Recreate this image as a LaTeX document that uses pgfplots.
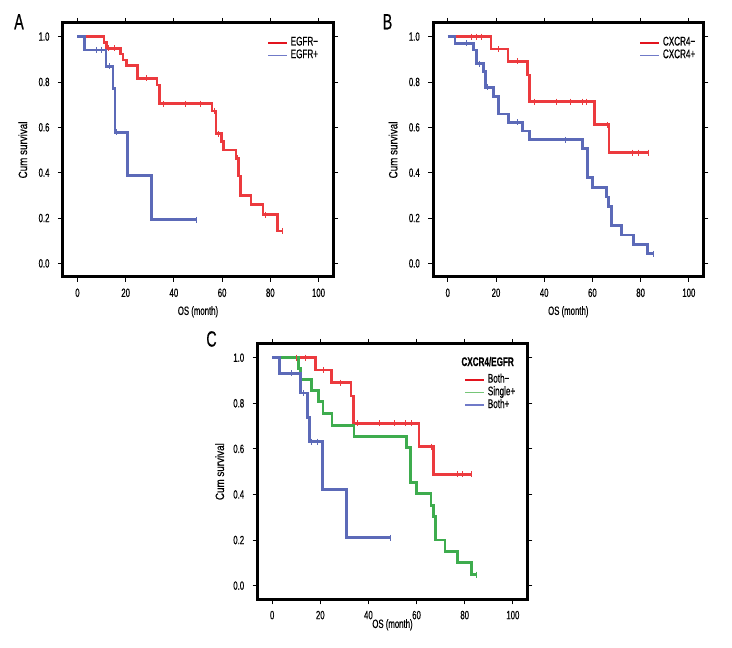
\documentclass[border=0pt]{standalone}
\usepackage{fontspec}
\setmainfont{Liberation Sans}[FakeStretch=0.65, FakeBold=0.5]
\newfontfamily\ylabfont{Liberation Sans}[FakeStretch=0.82, FakeBold=0.5]
\usepackage{pgfplots}
\pgfplotsset{compat=1.18}
\definecolor{cred}{RGB}{236,58,62}
\definecolor{cblue}{RGB}{92,106,184}
\definecolor{cgreen}{RGB}{62,172,78}
\definecolor{lred}{RGB}{226,20,30}
\definecolor{lblue}{RGB}{112,122,200}
\definecolor{lgreen}{RGB}{118,198,120}
\pgfplotsset{km/.style={
  scale only axis, width=270pt, height=254pt,
  xmin=-6, xmax=106, ymin=-0.06, ymax=1.06,
  xtick={0,20,40,60,80,100}, ytick={0,0.2,0.4,0.6,0.8,1},
  tick align=outside, major tick length=5pt,
  tick style={line width=0.8pt, black},
  axis line style={line width=3pt, line cap=rect},
  yticklabel style={/pgf/number format/fixed, /pgf/number format/fixed zerofill, /pgf/number format/precision=1, xshift=-5pt},
  xticklabel style={yshift=-3pt},
  /pgf/number format/assume math mode=true,
  ticklabel style={font=\fontsize{12}{14}\selectfont},
  xlabel style={font=\fontsize{12}{14}\selectfont},
  ylabel style={font=\ylabfont\fontsize{12}{14}\selectfont},
  ylabel={Cum survival}, xlabel={OS (month)},
  ylabel style={at={(axis description cs:-0.149,0.5)}, anchor=center, rotate=0},
  xlabel style={at={(axis description cs:0.5,-0.137)}, anchor=center},
  legend style={draw=none, fill=none, anchor=north west, font=\fontsize{12.5}{14}\selectfont,
    nodes={inner sep=0.6pt, text height=8.5pt, text depth=3pt}, row sep=0pt, column sep=2pt},
  legend cell align=left,
  legend image code/.code={\draw[#1, line width=1.8pt] (0pt,0pt) -- (19pt,0pt);},
  clip=false,
}}
\pgfplotsset{
  curve/.style={const plot, line width=2.8pt, #1, forget plot, mark=none},
  cens/.style={only marks, mark=|, mark size=3pt, #1, mark options={line width=1pt}, forget plot},
}
\begin{document}
\begin{tikzpicture}
\path[use as bounding box] (0,0) rectangle (732pt,648pt);
% Panel A
\begin{axis}[km, at={(63pt,371pt)}, anchor=south west,
  legend style={at={(0.745,0.956)}}]
\addplot[curve=cred] coordinates {(0,1)(11,0.974)(12,0.949)(17.7,0.923)(18.9,0.897)(20.5,0.872)(24.9,0.816)(33,0.787)(34,0.704)(55.8,0.672)(57.5,0.571)(59.8,0.537)(60.6,0.50)(65.8,0.464)(66.8,0.385)(67.7,0.301)(72,0.258)(77,0.215)(83,0.143)(85.2,0.143)};
\addplot[cens=cred] coordinates {(13,0.949)(15.5,0.949)(28.8,0.816)(35.7,0.704)(45,0.704)(50.9,0.704)(56.7,0.672)(58.6,0.571)(66.2,0.464)(78,0.215)(85.2,0.143)};
\addplot[curve=cblue] coordinates {(0,1)(2.9,0.941)(11.8,0.869)(14.7,0.772)(15.6,0.578)(20.8,0.387)(30.7,0.192)(49.3,0.192)};
\addplot[cens=cblue] coordinates {(7.8,0.941)(9.8,0.941)(13.3,0.869)(16.2,0.578)(49.3,0.192)};
\addlegendimage{lred}\addlegendentry{EGFR−}
\addlegendimage{lblue}\addlegendentry{EGFR+}
\end{axis}
% Panel B
\begin{axis}[km, at={(433.3pt,371pt)}, anchor=south west,
  legend style={at={(0.752,0.956)}}]
\addplot[curve=cred] coordinates {(0,1)(17.9,0.945)(25,0.891)(33,0.831)(33.8,0.713)(60.9,0.611)(66.9,0.488)(83.2,0.488)};
\addplot[cens=cred] coordinates {(9.9,1)(12,1)(13.8,1)(21,0.945)(28.9,0.891)(35.8,0.713)(44.9,0.713)(50.9,0.713)(55.8,0.713)(57.7,0.713)(66.2,0.611)(76.7,0.488)(79,0.488)(83.2,0.488)};
\addplot[curve=cblue] coordinates {(0,1)(3,0.971)(10.7,0.941)(11.8,0.881)(14.9,0.846)(15.8,0.776)(18.9,0.737)(21,0.659)(25.1,0.622)(30.9,0.584)(33.9,0.545)(56,0.505)(57.9,0.377)(60.1,0.335)(65.9,0.293)(66.8,0.25)(67.9,0.166)(72.1,0.125)(77,0.084)(82.8,0.042)(85.3,0.042)};
\addplot[cens=cblue] coordinates {(7.9,0.971)(13,0.881)(16.5,0.776)(29,0.622)(49,0.545)(85.3,0.042)};
\addlegendimage{lred}\addlegendentry{CXCR4−}
\addlegendimage{lblue}\addlegendentry{CXCR4+}
\end{axis}
% Panel C
\begin{axis}[km, at={(257.7pt,48.7pt)}, anchor=south west, width=269.6pt, height=255.3pt,
  xlabel style={at={(axis description cs:0.5,-0.10)}},
  ylabel style={at={(axis description cs:-0.141,0.5)}},
  legend style={at={(0.755,0.893)}}]
\addplot[curve=cred] coordinates {(0,1)(17.9,0.946)(24.8,0.891)(32.8,0.832)(33.8,0.712)(61,0.61)(66.9,0.488)(83,0.488)};
\addplot[cens=cred] coordinates {(10.3,1)(13.8,1)(21.4,0.946)(28.6,0.891)(35.4,0.712)(44.8,0.712)(51,0.712)(55.6,0.712)(57.9,0.712)(66.2,0.61)(76.8,0.488)(79,0.488)(83,0.488)};
\addplot[curve=cgreen] coordinates {(0,1)(10.9,0.952)(11.8,0.905)(16.2,0.855)(19.2,0.806)(21.1,0.755)(24.9,0.703)(34,0.653)(55.9,0.605)(57.6,0.451)(60,0.403)(66,0.353)(66.9,0.303)(67.7,0.2)(71.8,0.151)(76.9,0.1)(82.8,0.048)(85.1,0.048)};
\addplot[cens=cgreen] coordinates {(85.1,0.048)};
\addplot[curve=cblue] coordinates {(0,1)(2.9,0.931)(11.7,0.845)(14.8,0.738)(15.6,0.632)(20.8,0.421)(30.9,0.21)(49.3,0.21)};
\addplot[cens=cblue] coordinates {(7.9,0.931)(13.2,0.845)(16.2,0.632)(18.8,0.632)(49.3,0.21)};
\addlegendimage{lred}\addlegendentry{Both−}
\addlegendimage{lgreen}\addlegendentry{Single+}
\addlegendimage{lblue}\addlegendentry{Both+}
\node[anchor=west, font=\fontsize{12.5}{14}\selectfont\bfseries, inner sep=0pt] at (axis description cs:0.755,0.931) {CXCR4/EGFR};
\end{axis}
\node[font=\fontsize{22}{24}\selectfont] at (19pt,626.3pt) {A};
\node[font=\fontsize{22}{24}\selectfont] at (387.5pt,626.3pt) {B};
\node[font=\fontsize{22}{24}\selectfont] at (211.5pt,309pt) {C};
\end{tikzpicture}
\end{document}
